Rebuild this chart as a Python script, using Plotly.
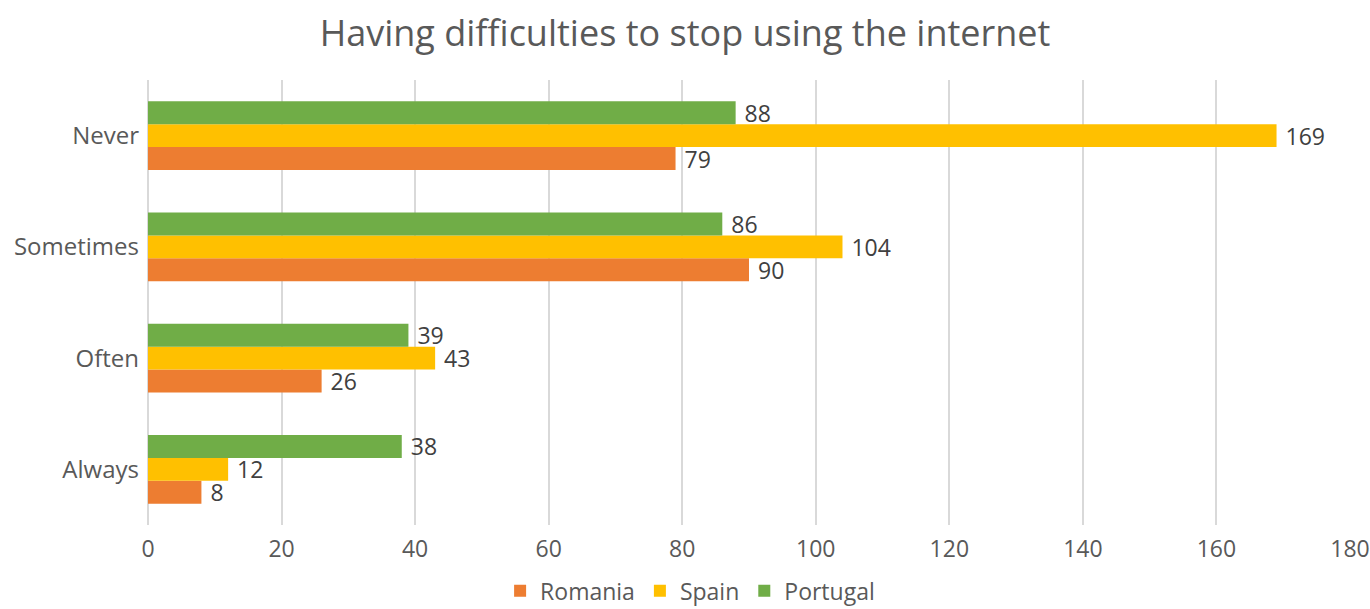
import plotly.graph_objects as go

# Survey answers, listed bottom to top on the category axis
answers = ["Always", "Often", "Sometimes", "Never"]

romania = [8, 26, 90, 79]
spain = [12, 43, 104, 169]
portugal = [38, 39, 86, 88]

x_ticks = [0, 20, 40, 60, 80, 100, 120, 140, 160, 180]

series = [
    ("Romania", romania, "#ED7D31"),
    ("Spain", spain, "#FFC000"),
    ("Portugal", portugal, "#70AD47"),
]

FONT = "Open Sans"
GREY = "#595959"

fig = go.Figure()
for name, values, color in series:
    fig.add_trace(go.Bar(
        name=name,
        y=answers,
        x=values,
        orientation="h",
        marker=dict(color=color, line=dict(width=0)),
        texttemplate=" %{x}",
        textposition="outside",
        constraintext="none",
        textfont=dict(family=FONT, size=23, color="#404040"),
        cliponaxis=False,
    ))

fig.update_layout(
    width=1370,
    height=609,
    barmode="group",
    bargap=0.38,
    bargroupgap=0,
    plot_bgcolor="white",
    paper_bgcolor="white",
    margin=dict(l=148, r=20, t=80, b=84, autoexpand=False),
    title=dict(
        text="Having difficulties to stop using the internet",
        x=0.5, xanchor="center",
        y=0.945, yanchor="middle",
        font=dict(family=FONT, size=36, color=GREY),
    ),
    font=dict(family=FONT, color=GREY),
    xaxis=dict(
        range=[0, 180],
        tickvals=x_ticks,
        showgrid=True,
        gridcolor="#D9D9D9",
        gridwidth=1.5,
        zeroline=True,
        zerolinecolor="#D9D9D9",
        zerolinewidth=1.5,
        showline=False,
        automargin=False,
        ticks="",
        ticklabelstandoff=8,
        tickfont=dict(family=FONT, size=23, color=GREY),
    ),
    yaxis=dict(
        categoryorder="array",
        categoryarray=answers,
        showgrid=False,
        showline=False,
        zeroline=False,
        automargin=False,
        ticks="",
        ticklabelstandoff=8,
        tickfont=dict(family=FONT, size=24, color=GREY),
    ),
    legend=dict(
        orientation="h",
        x=0.451, xanchor="center",
        y=-0.148, yanchor="middle",
        font=dict(family=FONT, size=23, color=GREY),
        traceorder="normal",
        itemwidth=30,
    ),
)

fig.write_html("out.html")
